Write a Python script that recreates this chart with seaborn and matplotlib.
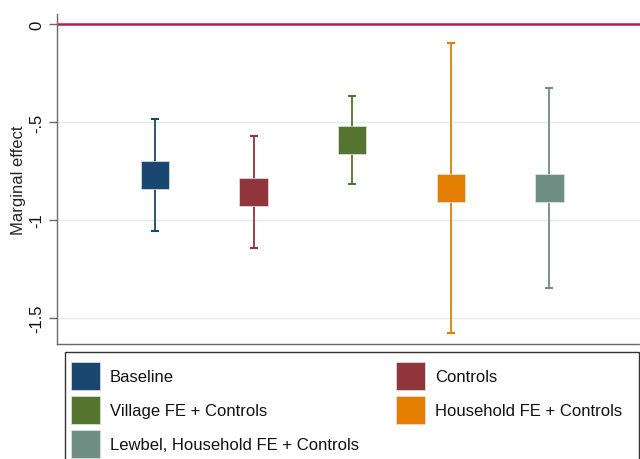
import numpy as np
import pandas as pd
import matplotlib
matplotlib.use("Agg")
import matplotlib.pyplot as plt
from matplotlib.patches import Patch, Rectangle
import seaborn as sns

# Model specifications and their estimated marginal effects
models = ["Baseline", "Controls", "Village FE + Controls",
          "Household FE + Controls", "Lewbel, Household FE + Controls"]
estimate = [-0.771, -0.856, -0.591, -0.838, -0.838]
ci_low = [-1.057, -1.142, -0.817, -1.577, -1.350]
ci_high = [-0.486, -0.569, -0.367, -0.097, -0.326]
colors = ["#1a476f", "#90353b", "#55752f", "#e37e00", "#6e8e84"]
ytick_values = [0, -0.5, -1, -1.5]
ytick_labels = ["0", "-.5", "-1", "-1.5"]

df = pd.DataFrame({
    "model": models,
    "est": estimate,
    "lo": ci_low,
    "hi": ci_high,
})
df["pos"] = np.arange(1, len(df) + 1)

sns.set_theme(style="white")
plt.rcParams["font.family"] = ["Liberation Sans", "DejaVu Sans"]

W, H = 640, 460
fig = plt.figure(figsize=(W / 100, H / 100), dpi=100)
ax = fig.add_axes([56.5 / W, 1 - 344.7 / H, 583.5 / W, 329.7 / H])

# light horizontal grid
for v in ytick_values:
    ax.axhline(v, color="#e3ecef", lw=1.0, zorder=0)

# reference line at zero
ax.axhline(0, color="#b51f50", lw=1.8, zorder=1)

# confidence intervals
for _, r in df.iterrows():
    c = colors[models.index(r["model"])]
    ax.errorbar(r["pos"], r["est"],
                yerr=[[r["est"] - r["lo"]], [r["hi"] - r["est"]]],
                fmt="none", ecolor=c, elinewidth=1.3, capsize=3.2,
                capthick=1.5, zorder=2)

# point estimates
sns.scatterplot(data=df, x="pos", y="est", hue="model", hue_order=models,
                palette=colors, marker="s", s=420, linewidth=0.5,
                edgecolor="#dfe6ea", legend=False, zorder=3, ax=ax)

ax.set_xlim(0, 5.92)
ax.set_ylim(-1.633, 0.053)
ax.set_xticks([])
ax.set_xlabel("")
ax.set_yticks(ytick_values)
ax.set_yticklabels(ytick_labels, rotation=90, va="center", fontsize=12)
ax.set_ylabel("Marginal effect", fontsize=12, labelpad=2)
ax.tick_params(axis="y", left=True, length=6, width=1, color="#6a6a6a",
               pad=3, labelcolor="#111111")

for s in ["top", "right"]:
    ax.spines[s].set_visible(False)
for s in ["left", "bottom"]:
    ax.spines[s].set_color("#6a6a6a")
    ax.spines[s].set_linewidth(1.0)

# legend: two columns, filled column-wise, with its own outer frame
order = [0, 2, 4, 1, 3]
handles = [Patch(facecolor=colors[i], edgecolor="#dfe6ea", linewidth=0.5,
                 label=models[i]) for i in order]
leg = fig.legend(handles=handles, loc="upper left", ncol=2,
                 bbox_to_anchor=(71 / W, 1 - 363 / H),
                 fontsize=12, frameon=False,
                 handlelength=1.74, handleheight=2.24, handletextpad=0.6,
                 labelspacing=0.34, borderpad=0, columnspacing=2.2,
                 borderaxespad=0)
for t in leg.get_texts():
    t.set_color("#111111")

fig.patches.append(Rectangle((65 / W, -0.05), 574 / W, 1 - 353 / H + 0.05,
                             transform=fig.transFigure, fill=False,
                             edgecolor="#333333", linewidth=1.0))

fig.savefig("out.png", dpi=100, facecolor="white")
